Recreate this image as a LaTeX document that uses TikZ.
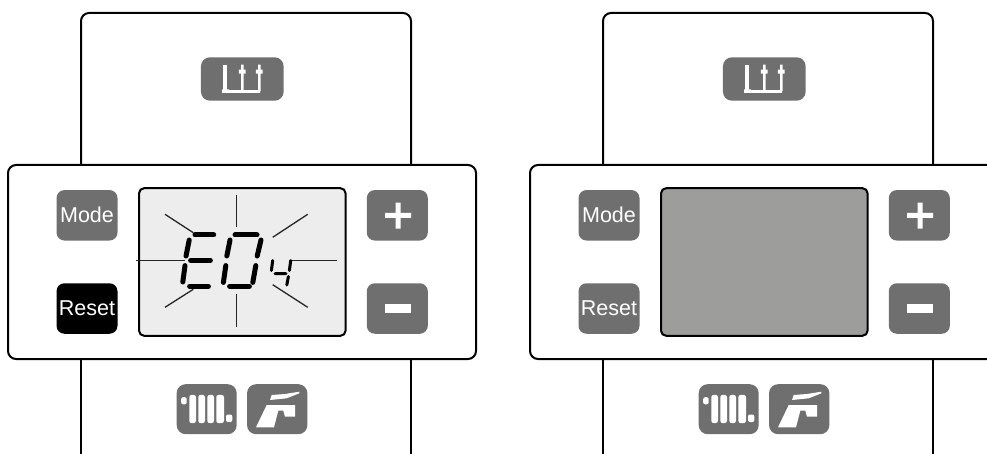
\documentclass[tikz,border=0pt]{standalone}
\usepackage{fontspec}
\setmainfont{Liberation Sans}
\definecolor{btn}{HTML}{706F6F}
\definecolor{lcdon}{HTML}{EDEDED}
\definecolor{lcdoff}{HTML}{9D9D9C}
\tikzset{
  outline/.style={draw=black,line width=2pt,rounded corners=8pt,fill=white},
  wall/.style={draw=black,line width=2pt},
  pad/.style={fill=btn,draw=none,rounded corners=8pt,inner sep=0pt,minimum width=61pt,minimum height=50.5pt,text=white,font=\fontsize{21.5}{22}\selectfont},
  lcd/.style={draw=black,line width=2pt,rounded corners=5pt,inner sep=0pt,minimum width=206.5pt,minimum height=147.5pt},
  ray/.style={draw=black!85,line width=1.3pt},
  seg/.style={draw=black,line width=5pt,line cap=round},
  minseg/.style={draw=black,line width=3pt,line cap=round},
  icon/.style={fill=white,draw=none},
}
\newcommand{\devicepanel}[3]{%
  \draw[outline] (81,165) -- (81,13) -- (411,13) -- (411,165);
  \draw[wall] (81,359) -- (81,454) (411,359) -- (411,454);
  \draw[outline] (8,165) rectangle (476,359);
  \node[pad] (#1mode) at (87,215.3) {Mode};
  \node[pad,fill=#3] (#1reset) at (87,308.5) {Reset};
  \node[pad] (#1plus) at (397.3,215.3) {};
  \node[pad] (#1minus) at (397.3,308.5) {};
  \node[lcd,fill=#2] (#1lcd) at (242.3,262) {};
  \fill[white] (385,212.8) rectangle (411,218) (395.5,202.7) rectangle (400.5,228.7);
  \fill[white] (385,304) rectangle (411,313);
  % heating button
  \node[pad,minimum width=82.7pt,minimum height=43.4pt,rounded corners=9pt] (#1heat) at (242.3,79) {};
  \fill[icon] (223.3,64.7) rectangle (226.7,90);
  \fill[icon] (222,89.5) rectangle (229,93) (229,90.2) rectangle (260,92.8);
  \fill[icon] (241,64.7) rectangle (243.6,91) (258,64.7) rectangle (260.6,91);
  \fill[icon] (238.9,69.7) rectangle (245.7,73.7) (255.9,69.7) rectangle (262.7,73.7);
  % radiator button
  \node[pad,minimum width=60pt,minimum height=50pt,rounded corners=9pt] (#1rad) at (206.7,409.2) {};
  \fill[icon,rounded corners=2pt] (181.2,397.2) rectangle (186.7,404.3);
  \fill[icon,rounded corners=2.5pt] (189.3,394.8) rectangle (196,423.2);
  \fill[icon,rounded corners=2.5pt] (198.3,394.8) rectangle (205,423.2);
  \fill[icon,rounded corners=2.5pt] (207.3,394.8) rectangle (214,423.2);
  \fill[icon,rounded corners=2.5pt] (216.3,394.8) rectangle (224,423.2);
  \fill[icon,rounded corners=2pt] (226,414.5) rectangle (232.3,422);
  % tap button
  \node[pad,minimum width=60.3pt,minimum height=50pt,rounded corners=9pt] (#1tap) at (277.2,409.2) {};
  \fill[icon] (271.7,395) -- (285,394) -- (299.3,391.7) -- (299.3,393.3) -- (286.7,398.3) -- (270,400) -- cycle;
  \fill[icon] (266.7,405) -- (295,405) -- (295,416.7) -- (285,416.7) -- (283.3,410.7) -- (278.3,410.7) -- (274,427.3) -- (256,427.3) -- cycle;
}
\begin{document}
\begin{tikzpicture}[x=1pt,y=-1pt]
  \useasboundingbox (0,0) rectangle (987,454);
  \clip (0,0) rectangle (987,454);
  \begin{scope}
    \devicepanel{a}{lcdon}{black}
    % blinking rays
    \draw[ray] (236.3,195) -- (236.3,227) (236.3,294) -- (236.3,326.7);
    \draw[ray] (136,260.7) -- (185,260.7) (291,260.7) -- (336.7,260.7);
    \draw[ray] (165,214.3) -- (193.3,232.7) (307.7,214.3) -- (272.7,237.3);
    \draw[ray] (165,307.3) -- (193.3,289.3) (307.7,307.3) -- (272.7,284.7);
    % E
    \draw[seg] (195,235) -- (213.7,235) (190.6,260.5) -- (210.4,260.5) (189.6,286.3) -- (208.4,286.3);
    \draw[seg] (189.2,240) -- (186,256) (185,265.6) -- (182.8,282);
    % 0
    \draw[seg] (235,235) -- (257,235) (229.6,286.3) -- (249.4,286.3);
    \draw[seg] (230,240) -- (226.8,256) (225.8,265.6) -- (223.4,282.4);
    \draw[seg] (261,240) -- (257.2,256) (255.8,265.6) -- (252.8,282.4);
    % 4
    \draw[minseg] (272.7,260.5) -- (271.4,270.5) (275,273.7) -- (286,273.7);
    \draw[minseg] (290.7,260.5) -- (289.4,270.5) (288.4,276.5) -- (286.8,285);
  \end{scope}
  \begin{scope}[shift={(522,0)}]
    \devicepanel{b}{lcdoff}{btn}
  \end{scope}
\end{tikzpicture}
\end{document}
